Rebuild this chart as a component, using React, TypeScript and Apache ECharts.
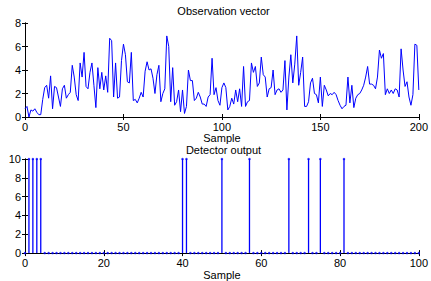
import React, { useEffect, useRef } from "react";
import * as echarts from "echarts";

const observationValues: number[] = [
  0.7, 0.9, 0.0, 0.6, 0.5, 0.7, 0.4, 0.2, 0.2, 1.5,
  2.5, 2.7, 1.6, 3.5, 0.7, 2.6, 2.5, 1.7, 0.9, 2.4,
  2.7, 1.6, 1.9, 2.1, 4.4, 3.4, 1.9, 1.4, 4.6, 3.4,
  5.5, 2.6, 2.4, 3.8, 4.6, 2.7, 0.8, 4.2, 2.4, 3.8,
  2.3, 3.5, 2.1, 6.7, 6.5, 1.7, 4.6, 1.6, 1.7, 4.8,
  6.2, 5.3, 3.0, 2.9, 5.5, 1.4, 1.5, 1.2, 1.6, 2.1,
  1.7, 3.9, 4.7, 4.0, 4.1, 3.3, 2.0, 3.6, 4.4, 1.3,
  2.0, 2.4, 6.9, 6.0, 1.3, 4.2, 1.0, 1.3, 2.3, 0.45,
  2.3, 0.3, 0.9, 4.0, 3.1, 3.1, 1.4, 1.6, 2.1, 1.7,
  1.1, 1.1, 0.9, 1.7, 1.9, 5.0, 1.9, 2.5, 1.4, 1.0,
  2.5, 2.9, 2.5, 0.6, 0.9, 1.6, 1.1, 2.3, 1.3, 2.4,
  0.9, 4.3, 0.9, 1.3, 1.4, 4.6, 3.8, 4.3, 2.6, 2.9,
  5.1, 3.6, 3.4, 1.7, 2.4, 2.5, 4.0, 1.9, 2.3, 2.4,
  2.1, 2.3, 4.8, 0.6, 3.4, 5.3, 2.9, 4.5, 6.9, 2.7,
  3.8, 5.1, 0.9, 0.9, 1.3, 2.9, 3.3, 2.0, 1.9, 1.2,
  3.4, 0.9, 2.7, 2.3, 1.8, 2.0, 1.9, 2.1, 1.9, 1.4,
  1.0, 0.7, 0.9, 1.0, 3.4, 1.2, 2.7, 0.8, 1.6, 1.9,
  2.0, 2.3, 2.7, 3.4, 4.3, 2.8, 2.8, 2.7, 2.4, 3.4,
  5.7, 5.0, 5.4, 1.9, 2.4, 2.0, 2.3, 2.0, 2.4, 2.3,
  1.7, 5.8, 4.0, 2.6, 3.0, 1.7, 1.0, 1.9, 6.2, 6.1,
  2.3,
];

const detectorValues: number[] = [
  0, 10, 10, 10, 10, 0, 0, 0, 0, 0,
  0, 0, 0, 0, 0, 0, 0, 0, 0, 0,
  0, 0, 0, 0, 0, 0, 0, 0, 0, 0,
  0, 0, 0, 0, 0, 0, 0, 0, 0, 0,
  10, 10, 0, 0, 0, 0, 0, 0, 0, 0,
  10, 0, 0, 0, 0, 0, 0, 10, 0, 0,
  0, 0, 0, 0, 0, 0, 0, 10, 0, 0,
  0, 0, 10, 0, 0, 10, 0, 0, 0, 0,
  0, 10, 0, 0, 0, 0, 0, 0, 0, 0,
  0, 0, 0, 0, 0, 0, 0, 0, 0, 0,
  0,
];

const topXTicks = { min: 0, max: 200, interval: 50 };
const topYTicks = { min: 0, max: 8, interval: 2 };
const botXTicks = { min: 0, max: 100, interval: 20 };
const botYTicks = { min: 0, max: 10, interval: 2 };

const FONT = "'Liberation Sans', Arial, Helvetica, sans-serif";
const BLUE = "#0000ff";

export default function App() {
  const ref = useRef<HTMLDivElement>(null);

  useEffect(() => {
    if (!ref.current) return;
    const chart = echarts.init(ref.current, undefined, { renderer: "svg" });

    const obsData = observationValues.map((v, i) => [i, v]);
    const detData = detectorValues.map((v, i) => [i, v]);

    const label = { color: "#000", fontSize: 11, fontFamily: FONT };
    const axisLine = { show: true, lineStyle: { color: "#000", width: 1 } };
    const tickIn = { show: true, inside: true, length: 3, lineStyle: { color: "#000" } };

    const xMain = (grid: number, t: any, gap: number) => ({
      type: "value",
      gridIndex: grid,
      min: t.min,
      max: t.max,
      interval: t.interval,
      position: "bottom",
      axisLine,
      axisTick: tickIn,
      axisLabel: { ...label, margin: 4 },
      splitLine: { show: false },
      name: "Sample",
      nameLocation: "middle",
      nameGap: gap,
      nameTextStyle: { ...label },
    });
    const xTop = (grid: number, t: any) => ({
      type: "value",
      gridIndex: grid,
      min: t.min,
      max: t.max,
      interval: t.interval,
      position: "top",
      axisLine,
      axisTick: tickIn,
      axisLabel: { show: false },
      splitLine: { show: false },
    });
    const yMain = (grid: number, t: any) => ({
      type: "value",
      gridIndex: grid,
      min: t.min,
      max: t.max,
      interval: t.interval,
      position: "left",
      axisLine,
      axisTick: tickIn,
      axisLabel: { ...label, margin: 4 },
      splitLine: { show: false },
    });
    const yRight = (grid: number, t: any) => ({
      type: "value",
      gridIndex: grid,
      min: t.min,
      max: t.max,
      interval: t.interval,
      position: "right",
      axisLine,
      axisTick: tickIn,
      axisLabel: { show: false },
      splitLine: { show: false },
    });

    chart.setOption({
      animation: false,
      backgroundColor: "#fff",
      textStyle: { fontFamily: FONT },
      graphic: [
        {
          type: "text",
          x: 223.5,
          y: 11,
          style: {
            text: "Observation vector",
            fill: "#000",
            font: `11px ${FONT}`,
            textAlign: "center",
            textVerticalAlign: "middle",
          },
        },
        {
          type: "text",
          x: 223.5,
          y: 150,
          style: {
            text: "Detector output",
            fill: "#000",
            font: `11px ${FONT}`,
            textAlign: "center",
            textVerticalAlign: "middle",
          },
        },
      ],
      grid: [
        { left: 25, top: 23, width: 397, height: 94, containLabel: false },
        { left: 25, top: 159, width: 397, height: 95, containLabel: false },
      ],
      xAxis: [xMain(0, topXTicks, 14), xTop(0, topXTicks), xMain(1, botXTicks, 15), xTop(1, botXTicks)],
      yAxis: [yMain(0, topYTicks), yRight(0, topYTicks), yMain(1, botYTicks), yRight(1, botYTicks)],
      series: [
        {
          type: "line",
          xAxisIndex: 0,
          yAxisIndex: 0,
          data: obsData,
          showSymbol: false,
          lineStyle: { color: BLUE, width: 1 },
          z: 3,
        },
        {
          type: "bar",
          xAxisIndex: 2,
          yAxisIndex: 2,
          data: detData,
          barWidth: 1.3,
          itemStyle: { color: BLUE },
          z: 3,
        },
        {
          type: "scatter",
          xAxisIndex: 2,
          yAxisIndex: 2,
          data: detData,
          symbol: "circle",
          symbolSize: 2.5,
          itemStyle: { color: BLUE },
          z: 4,
        },
      ],
    });

    return () => chart.dispose();
  }, []);

  return (
    <div
      ref={ref}
      style={{ position: "fixed", left: 0, top: 0, width: 431, height: 281, background: "#fff" }}
    />
  );
}
